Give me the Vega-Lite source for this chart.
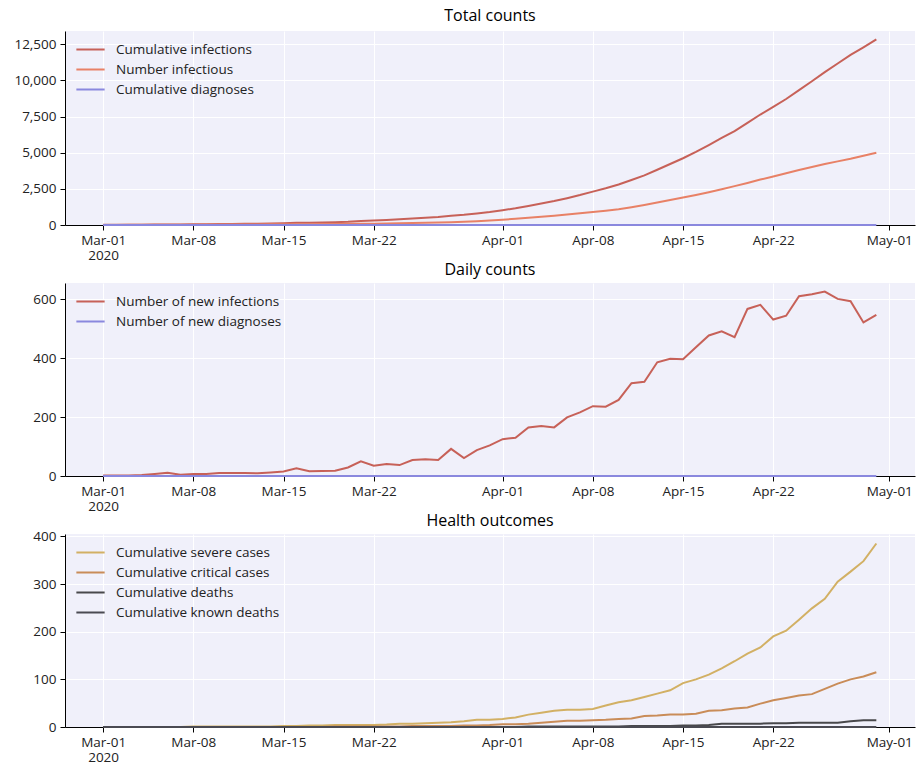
{
  "$schema": "https://vega.github.io/schema/vega-lite/v6.json",
  "background": "white",
  "padding": {"left": 5, "top": 8, "right": 5, "bottom": 5},
  "spacing": 0,
  "config": {
    "font": "Open Sans",
    "view": {"fill": "#f0f0fa", "stroke": null},
    "axis": {
      "domainColor": "#000000", "domainWidth": 1, "tickColor": "#000000", "tickSize": 5, "tickWidth": 1,
      "labelFontSize": 13.5, "labelColor": "#222222", "labelFont": "Open Sans", "labelLineHeight": 15,
      "gridColor": "#ffffff", "gridWidth": 1, "gridOpacity": 1, "title": null
    },
    "axisX": {"labelPadding": 3},
    "axisY": {"labelPadding": 4, "minExtent": 60, "maxExtent": 60},
    "legend": {
      "orient": "none", "legendX": 17, "legendY": 10, "title": null,
      "symbolType": "M-2,0H2", "symbolSize": 200, "symbolStrokeWidth": 2,
      "labelFontSize": 13.5, "labelColor": "#222222", "labelOffset": 17, "rowPadding": 5, "labelLimit": 400,
      "labelFont": "Open Sans"
    },
    "title": {"fontSize": 16, "fontWeight": "normal", "offset": 7, "color": "#000000", "font": "Open Sans"},
    "line": {"strokeWidth": 2}
  },
  "data": {"values": [
    {"date":"2020-03-01","cum_inf":12,"n_inf":5,"cum_diag":0,"new_inf":2,"new_diag":0,"severe":0,"critical":0,"deaths":0,"known_deaths":0},
    {"date":"2020-03-02","cum_inf":14,"n_inf":8,"cum_diag":0,"new_inf":2,"new_diag":0,"severe":0,"critical":0,"deaths":0,"known_deaths":0},
    {"date":"2020-03-03","cum_inf":16,"n_inf":10,"cum_diag":0,"new_inf":2,"new_diag":0,"severe":0,"critical":0,"deaths":0,"known_deaths":0},
    {"date":"2020-03-04","cum_inf":19,"n_inf":12,"cum_diag":0,"new_inf":3,"new_diag":0,"severe":0,"critical":0,"deaths":0,"known_deaths":0},
    {"date":"2020-03-05","cum_inf":26,"n_inf":14,"cum_diag":0,"new_inf":7,"new_diag":0,"severe":0,"critical":0,"deaths":0,"known_deaths":0},
    {"date":"2020-03-06","cum_inf":37,"n_inf":17,"cum_diag":0,"new_inf":11,"new_diag":0,"severe":0,"critical":0,"deaths":0,"known_deaths":0},
    {"date":"2020-03-07","cum_inf":41,"n_inf":20,"cum_diag":0,"new_inf":4,"new_diag":0,"severe":0,"critical":0,"deaths":0,"known_deaths":0},
    {"date":"2020-03-08","cum_inf":48,"n_inf":23,"cum_diag":0,"new_inf":7,"new_diag":0,"severe":1,"critical":0,"deaths":0,"known_deaths":0},
    {"date":"2020-03-09","cum_inf":55,"n_inf":26,"cum_diag":0,"new_inf":7,"new_diag":0,"severe":1,"critical":0,"deaths":0,"known_deaths":0},
    {"date":"2020-03-10","cum_inf":65,"n_inf":29,"cum_diag":0,"new_inf":10,"new_diag":0,"severe":1,"critical":0,"deaths":0,"known_deaths":0},
    {"date":"2020-03-11","cum_inf":75,"n_inf":32,"cum_diag":0,"new_inf":10,"new_diag":0,"severe":1,"critical":0,"deaths":0,"known_deaths":0},
    {"date":"2020-03-12","cum_inf":85,"n_inf":36,"cum_diag":0,"new_inf":10,"new_diag":0,"severe":1,"critical":0,"deaths":0,"known_deaths":0},
    {"date":"2020-03-13","cum_inf":94,"n_inf":40,"cum_diag":0,"new_inf":9,"new_diag":0,"severe":1,"critical":0,"deaths":0,"known_deaths":0},
    {"date":"2020-03-14","cum_inf":106,"n_inf":44,"cum_diag":0,"new_inf":12,"new_diag":0,"severe":1,"critical":0,"deaths":0,"known_deaths":0},
    {"date":"2020-03-15","cum_inf":121,"n_inf":49,"cum_diag":0,"new_inf":15,"new_diag":0,"severe":2,"critical":0,"deaths":0,"known_deaths":0},
    {"date":"2020-03-16","cum_inf":147,"n_inf":54,"cum_diag":0,"new_inf":26,"new_diag":0,"severe":2,"critical":0,"deaths":0,"known_deaths":0},
    {"date":"2020-03-17","cum_inf":163,"n_inf":60,"cum_diag":0,"new_inf":16,"new_diag":0,"severe":3,"critical":0,"deaths":0,"known_deaths":0},
    {"date":"2020-03-18","cum_inf":180,"n_inf":66,"cum_diag":0,"new_inf":17,"new_diag":0,"severe":3,"critical":0,"deaths":0,"known_deaths":0},
    {"date":"2020-03-19","cum_inf":198,"n_inf":72,"cum_diag":0,"new_inf":18,"new_diag":0,"severe":4,"critical":1,"deaths":0,"known_deaths":0},
    {"date":"2020-03-20","cum_inf":227,"n_inf":78,"cum_diag":0,"new_inf":29,"new_diag":0,"severe":4,"critical":1,"deaths":0,"known_deaths":0},
    {"date":"2020-03-21","cum_inf":277,"n_inf":85,"cum_diag":0,"new_inf":50,"new_diag":0,"severe":4,"critical":1,"deaths":0,"known_deaths":0},
    {"date":"2020-03-22","cum_inf":312,"n_inf":92,"cum_diag":0,"new_inf":35,"new_diag":0,"severe":4,"critical":1,"deaths":0,"known_deaths":0},
    {"date":"2020-03-23","cum_inf":353,"n_inf":100,"cum_diag":0,"new_inf":41,"new_diag":0,"severe":5,"critical":1,"deaths":0,"known_deaths":0},
    {"date":"2020-03-24","cum_inf":390,"n_inf":115,"cum_diag":0,"new_inf":37,"new_diag":0,"severe":7,"critical":1,"deaths":0,"known_deaths":0},
    {"date":"2020-03-25","cum_inf":444,"n_inf":130,"cum_diag":0,"new_inf":54,"new_diag":0,"severe":7,"critical":2,"deaths":0,"known_deaths":0},
    {"date":"2020-03-26","cum_inf":501,"n_inf":150,"cum_diag":0,"new_inf":57,"new_diag":0,"severe":8,"critical":2,"deaths":0,"known_deaths":0},
    {"date":"2020-03-27","cum_inf":555,"n_inf":170,"cum_diag":0,"new_inf":54,"new_diag":0,"severe":9,"critical":2,"deaths":0,"known_deaths":0},
    {"date":"2020-03-28","cum_inf":647,"n_inf":195,"cum_diag":0,"new_inf":92,"new_diag":0,"severe":10,"critical":2,"deaths":0,"known_deaths":0},
    {"date":"2020-03-29","cum_inf":708,"n_inf":225,"cum_diag":0,"new_inf":61,"new_diag":0,"severe":12,"critical":3,"deaths":0,"known_deaths":0},
    {"date":"2020-03-30","cum_inf":796,"n_inf":260,"cum_diag":0,"new_inf":88,"new_diag":0,"severe":15,"critical":3,"deaths":0,"known_deaths":0},
    {"date":"2020-03-31","cum_inf":900,"n_inf":310,"cum_diag":0,"new_inf":104,"new_diag":0,"severe":15,"critical":4,"deaths":0,"known_deaths":0},
    {"date":"2020-04-01","cum_inf":1025,"n_inf":370,"cum_diag":0,"new_inf":125,"new_diag":0,"severe":17,"critical":6,"deaths":0,"known_deaths":0},
    {"date":"2020-04-02","cum_inf":1155,"n_inf":430,"cum_diag":0,"new_inf":130,"new_diag":0,"severe":20,"critical":6,"deaths":0,"known_deaths":0},
    {"date":"2020-04-03","cum_inf":1320,"n_inf":500,"cum_diag":0,"new_inf":165,"new_diag":0,"severe":26,"critical":7,"deaths":1,"known_deaths":0},
    {"date":"2020-04-04","cum_inf":1490,"n_inf":570,"cum_diag":0,"new_inf":170,"new_diag":0,"severe":30,"critical":9,"deaths":1,"known_deaths":0},
    {"date":"2020-04-05","cum_inf":1655,"n_inf":640,"cum_diag":0,"new_inf":165,"new_diag":0,"severe":34,"critical":11,"deaths":1,"known_deaths":0},
    {"date":"2020-04-06","cum_inf":1854,"n_inf":720,"cum_diag":0,"new_inf":199,"new_diag":0,"severe":36,"critical":13,"deaths":1,"known_deaths":0},
    {"date":"2020-04-07","cum_inf":2070,"n_inf":810,"cum_diag":0,"new_inf":216,"new_diag":0,"severe":36,"critical":13,"deaths":1,"known_deaths":0},
    {"date":"2020-04-08","cum_inf":2307,"n_inf":903,"cum_diag":0,"new_inf":237,"new_diag":0,"severe":38,"critical":14,"deaths":1,"known_deaths":0},
    {"date":"2020-04-09","cum_inf":2542,"n_inf":990,"cum_diag":0,"new_inf":235,"new_diag":0,"severe":45,"critical":15,"deaths":1,"known_deaths":0},
    {"date":"2020-04-10","cum_inf":2800,"n_inf":1090,"cum_diag":0,"new_inf":258,"new_diag":0,"severe":52,"critical":17,"deaths":1,"known_deaths":0},
    {"date":"2020-04-11","cum_inf":3115,"n_inf":1230,"cum_diag":0,"new_inf":315,"new_diag":0,"severe":56,"critical":18,"deaths":2,"known_deaths":0},
    {"date":"2020-04-12","cum_inf":3435,"n_inf":1389,"cum_diag":0,"new_inf":320,"new_diag":0,"severe":63,"critical":23,"deaths":2,"known_deaths":0},
    {"date":"2020-04-13","cum_inf":3821,"n_inf":1560,"cum_diag":0,"new_inf":386,"new_diag":0,"severe":70,"critical":24,"deaths":2,"known_deaths":0},
    {"date":"2020-04-14","cum_inf":4219,"n_inf":1730,"cum_diag":0,"new_inf":398,"new_diag":0,"severe":77,"critical":26,"deaths":2,"known_deaths":0},
    {"date":"2020-04-15","cum_inf":4615,"n_inf":1898,"cum_diag":0,"new_inf":396,"new_diag":0,"severe":92,"critical":26,"deaths":3,"known_deaths":0},
    {"date":"2020-04-16","cum_inf":5052,"n_inf":2080,"cum_diag":0,"new_inf":437,"new_diag":0,"severe":100,"critical":28,"deaths":3,"known_deaths":0},
    {"date":"2020-04-17","cum_inf":5529,"n_inf":2270,"cum_diag":0,"new_inf":477,"new_diag":0,"severe":110,"critical":34,"deaths":4,"known_deaths":0},
    {"date":"2020-04-18","cum_inf":6020,"n_inf":2470,"cum_diag":0,"new_inf":491,"new_diag":0,"severe":123,"critical":35,"deaths":7,"known_deaths":0},
    {"date":"2020-04-19","cum_inf":6491,"n_inf":2690,"cum_diag":0,"new_inf":471,"new_diag":0,"severe":138,"critical":39,"deaths":7,"known_deaths":0},
    {"date":"2020-04-20","cum_inf":7058,"n_inf":2910,"cum_diag":0,"new_inf":567,"new_diag":0,"severe":154,"critical":41,"deaths":7,"known_deaths":0},
    {"date":"2020-04-21","cum_inf":7639,"n_inf":3140,"cum_diag":0,"new_inf":581,"new_diag":0,"severe":167,"critical":49,"deaths":7,"known_deaths":0},
    {"date":"2020-04-22","cum_inf":8170,"n_inf":3357,"cum_diag":0,"new_inf":531,"new_diag":0,"severe":190,"critical":56,"deaths":8,"known_deaths":0},
    {"date":"2020-04-23","cum_inf":8714,"n_inf":3580,"cum_diag":0,"new_inf":544,"new_diag":0,"severe":202,"critical":61,"deaths":8,"known_deaths":0},
    {"date":"2020-04-24","cum_inf":9324,"n_inf":3797,"cum_diag":0,"new_inf":610,"new_diag":0,"severe":225,"critical":66,"deaths":9,"known_deaths":0},
    {"date":"2020-04-25","cum_inf":9941,"n_inf":4010,"cum_diag":0,"new_inf":617,"new_diag":0,"severe":249,"critical":69,"deaths":9,"known_deaths":0},
    {"date":"2020-04-26","cum_inf":10567,"n_inf":4213,"cum_diag":0,"new_inf":626,"new_diag":0,"severe":269,"critical":80,"deaths":9,"known_deaths":0},
    {"date":"2020-04-27","cum_inf":11168,"n_inf":4400,"cum_diag":0,"new_inf":601,"new_diag":0,"severe":305,"critical":91,"deaths":9,"known_deaths":0},
    {"date":"2020-04-28","cum_inf":11761,"n_inf":4584,"cum_diag":0,"new_inf":593,"new_diag":0,"severe":326,"critical":100,"deaths":12,"known_deaths":0},
    {"date":"2020-04-29","cum_inf":12282,"n_inf":4790,"cum_diag":0,"new_inf":521,"new_diag":0,"severe":348,"critical":106,"deaths":14,"known_deaths":0},
    {"date":"2020-04-30","cum_inf":12829,"n_inf":5000,"cum_diag":0,"new_inf":547,"new_diag":0,"severe":385,"critical":115,"deaths":14,"known_deaths":0}
  ]},
  "vconcat": [
    {
      "title": "Total counts",
      "width": 850, "height": 194,
      "transform": [{"fold": ["cum_inf", "n_inf", "cum_diag"], "as": ["series", "value"]}],
      "mark": {"type": "line", "strokeWidth": 2},
      "encoding": {
        "x": {"field": "date", "type": "temporal",
          "scale": {"type": "utc", "domain": [{"year": 2020, "month": 2, "date": 27, "hours": 1, "utc": true}, {"year": 2020, "month": 5, "date": 3, "utc": true}]},
          "axis": {"values": [{"year":2020,"month":3,"date":1,"utc":true},{"year":2020,"month":3,"date":8,"utc":true},{"year":2020,"month":3,"date":15,"utc":true},{"year":2020,"month":3,"date":22,"utc":true},{"year":2020,"month":4,"date":1,"utc":true},{"year":2020,"month":4,"date":8,"utc":true},{"year":2020,"month":4,"date":15,"utc":true},{"year":2020,"month":4,"date":22,"utc":true},{"year":2020,"month":5,"date":1,"utc":true}],
            "labelExpr": "datum.index == 0 ? ['Mar-01', '2020'] : utcFormat(datum.value, '%b-%d')", "labelFlush": false}},
        "y": {"field": "value", "type": "quantitative",
          "scale": {"domain": [0, 13415], "nice": false, "zero": false},
          "axis": {"values": [0, 2500, 5000, 7500, 10000, 12500], "labelExpr": "format(datum.value, ',')"}},
        "color": {"field": "series", "type": "nominal",
          "scale": {"domain": ["cum_inf", "n_inf", "cum_diag"], "range": ["#c76158", "#e88166", "#8a88de"]},
          "legend": {"labelExpr": "datum.label == 'cum_inf' ? 'Cumulative infections' : datum.label == 'n_inf' ? 'Number infectious' : 'Cumulative diagnoses'"}}
      }
    },
    {
      "title": {"text": "Daily counts", "offset": 5},
      "width": 850, "height": 193,
      "transform": [{"fold": ["new_inf", "new_diag"], "as": ["series", "value"]}],
      "mark": {"type": "line", "strokeWidth": 2},
      "encoding": {
        "x": {"field": "date", "type": "temporal",
          "scale": {"type": "utc", "domain": [{"year": 2020, "month": 2, "date": 27, "hours": 1, "utc": true}, {"year": 2020, "month": 5, "date": 3, "utc": true}]},
          "axis": {"values": [{"year":2020,"month":3,"date":1,"utc":true},{"year":2020,"month":3,"date":8,"utc":true},{"year":2020,"month":3,"date":15,"utc":true},{"year":2020,"month":3,"date":22,"utc":true},{"year":2020,"month":4,"date":1,"utc":true},{"year":2020,"month":4,"date":8,"utc":true},{"year":2020,"month":4,"date":15,"utc":true},{"year":2020,"month":4,"date":22,"utc":true},{"year":2020,"month":5,"date":1,"utc":true}],
            "labelExpr": "datum.index == 0 ? ['Mar-01', '2020'] : utcFormat(datum.value, '%b-%d')", "labelFlush": false}},
        "y": {"field": "value", "type": "quantitative",
          "scale": {"domain": [0, 655], "nice": false, "zero": false},
          "axis": {"values": [0, 200, 400, 600]}},
        "color": {"field": "series", "type": "nominal",
          "scale": {"domain": ["new_inf", "new_diag"], "range": ["#c76158", "#8a88de"]},
          "legend": {"labelExpr": "datum.label == 'new_inf' ? 'Number of new infections' : 'Number of new diagnoses'"}}
      }
    },
    {
      "title": {"text": "Health outcomes", "offset": 0},
      "width": 850, "height": 193,
      "transform": [{"fold": ["severe", "critical", "deaths", "known_deaths"], "as": ["series", "value"]}],
      "mark": {"type": "line", "strokeWidth": 2},
      "encoding": {
        "x": {"field": "date", "type": "temporal",
          "scale": {"type": "utc", "domain": [{"year": 2020, "month": 2, "date": 27, "hours": 1, "utc": true}, {"year": 2020, "month": 5, "date": 3, "utc": true}]},
          "axis": {"values": [{"year":2020,"month":3,"date":1,"utc":true},{"year":2020,"month":3,"date":8,"utc":true},{"year":2020,"month":3,"date":15,"utc":true},{"year":2020,"month":3,"date":22,"utc":true},{"year":2020,"month":4,"date":1,"utc":true},{"year":2020,"month":4,"date":8,"utc":true},{"year":2020,"month":4,"date":15,"utc":true},{"year":2020,"month":4,"date":22,"utc":true},{"year":2020,"month":5,"date":1,"utc":true}],
            "labelExpr": "datum.index == 0 ? ['Mar-01', '2020'] : utcFormat(datum.value, '%b-%d')", "labelFlush": false}},
        "y": {"field": "value", "type": "quantitative",
          "scale": {"domain": [0, 405], "nice": false, "zero": false},
          "axis": {"values": [0, 100, 200, 300, 400]}},
        "color": {"field": "series", "type": "nominal",
          "scale": {"domain": ["severe", "critical", "deaths", "known_deaths"], "range": ["#d2b064", "#c98c58", "#48484b", "#4a4a52"]},
          "legend": {"labelExpr": "datum.label == 'severe' ? 'Cumulative severe cases' : datum.label == 'critical' ? 'Cumulative critical cases' : datum.label == 'deaths' ? 'Cumulative deaths' : 'Cumulative known deaths'"}}
      }
    }
  ],
  "resolve": {"scale": {"color": "independent"}}
}
